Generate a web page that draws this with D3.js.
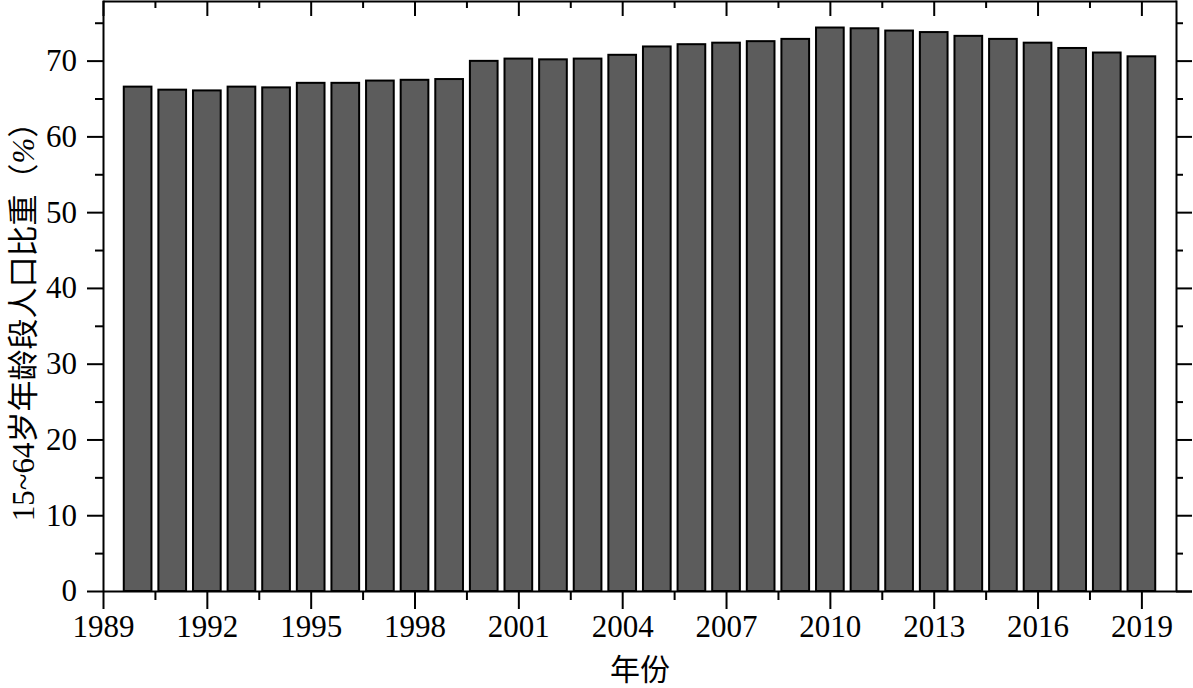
<!DOCTYPE html>
<html>
<head>
<meta charset="utf-8">
<script src="https://cdn.jsdelivr.net/npm/d3@7"></script>
<style>
html,body{margin:0;padding:0;background:#fff;}
svg{display:block;}
</style>
</head>
<body>
<svg id="chart" width="1193" height="688"></svg>
<script>
const years = [1990,1991,1992,1993,1994,1995,1996,1997,1998,1999,2000,2001,2002,2003,2004,2005,2006,2007,2008,2009,2010,2011,2012,2013,2014,2015,2016,2017,2018,2019];
const shares = [66.7,66.3,66.2,66.7,66.6,67.2,67.2,67.5,67.6,67.7,70.1,70.4,70.3,70.4,70.9,72.0,72.3,72.5,72.7,73.0,74.5,74.4,74.1,73.9,73.4,73.0,72.5,71.8,71.2,70.7];
const xMajorTicks = [1989,1992,1995,1998,2001,2004,2007,2010,2013,2016,2019];
const xMinorTicks = [1990.5,1993.5,1996.5,1999.5,2002.5,2005.5,2008.5,2011.5,2014.5,2017.5];
const yMajorTicks = [0,10,20,30,40,50,60,70];
const yMinorTicks = [5,15,25,35,45,55,65,75];
const xTitle = "年份";
const yTitleMain = "15~64岁年龄段人口比重";
const yTitleUnit = "%";

(function(){
const FONT = "'Liberation Serif', 'Times New Roman', 'DejaVu Serif', 'Noto Sans CJK SC', serif";
const svg = d3.select("#chart");
const L = 103, R = 1176, T = 0, B = 591;
const x = d3.scaleLinear().domain([1989, 2020]).range([L, R]);
const y = d3.scaleLinear().domain([0, 78]).range([B, T]);
const barW = x(1989.8) - x(1989);

// bars
svg.append("g").selectAll("rect").data(years).join("rect")
  .attr("x", (d) => x(d) - barW/2)
  .attr("width", barW)
  .attr("y", (d,i) => y(shares[i]) + 1)
  .attr("height", (d,i) => y(0) - y(shares[i]) - 1)
  .attr("fill", "#5c5c5c")
  .attr("stroke", "#000")
  .attr("stroke-width", 2);

const ax = (g) => g.call(s => s.select(".domain").attr("stroke-width", 2))
                  .call(s => s.selectAll(".tick line").attr("stroke-width", 2));

// bottom axis
const bottomAx = svg.append("g").attr("transform", `translate(0,${B})`)
  .call(d3.axisBottom(x).tickValues(xMajorTicks).tickFormat(d3.format("d")).tickSize(18).tickSizeOuter(0).tickPadding(6));
bottomAx.call(ax);
bottomAx.attr("font-family", null).attr("font-size", null);
bottomAx.selectAll("text").style("font-family", FONT).style("font-size", "31px").attr("fill", "#000");
bottomAx.select(".domain").attr("d", `M${L},0.5H1192`);
svg.append("g").attr("transform", `translate(0,${B})`)
  .call(d3.axisBottom(x).tickValues(xMinorTicks).tickFormat("").tickSize(9).tickSizeOuter(0))
  .call(ax).call(g => g.select(".domain").remove());

// top axis
const topAx = svg.append("g").attr("transform", `translate(0,${T+1})`)
  .call(d3.axisBottom(x).tickValues(xMajorTicks).tickFormat("").tickSize(15).tickSizeOuter(0));
topAx.call(ax);
svg.append("g").attr("transform", `translate(0,${T+1})`)
  .call(d3.axisBottom(x).tickValues(xMinorTicks).tickFormat("").tickSize(7).tickSizeOuter(0))
  .call(ax).call(g => g.select(".domain").remove());

// left axis
const leftAx = svg.append("g").attr("transform", `translate(${L},0)`)
  .call(d3.axisLeft(y).tickValues(yMajorTicks).tickSize(16).tickSizeOuter(0).tickPadding(10));
leftAx.call(ax);
leftAx.attr("font-family", null).attr("font-size", null);
leftAx.selectAll("text").style("font-family", FONT).style("font-size", "31px").attr("fill", "#000");
svg.append("g").attr("transform", `translate(${L},0)`)
  .call(d3.axisLeft(y).tickValues(yMinorTicks).tickFormat("").tickSize(8).tickSizeOuter(0))
  .call(ax).call(g => g.select(".domain").remove());

// right axis
svg.append("g").attr("transform", `translate(${R},0)`)
  .call(d3.axisRight(y).tickValues(yMajorTicks).tickFormat("").tickSize(16).tickSizeOuter(0))
  .call(ax);
svg.append("g").attr("transform", `translate(${R},0)`)
  .call(d3.axisRight(y).tickValues(yMinorTicks).tickFormat("").tickSize(7).tickSizeOuter(0))
  .call(ax).call(g => g.select(".domain").remove());

// titles
svg.append("text").attr("x", 640).attr("y", 680).attr("text-anchor", "middle")
  .style("font-family", FONT).style("font-size", "30px").text(xTitle);
const yt = svg.append("text").attr("transform", "translate(27,314) rotate(-90)")
  .attr("text-anchor", "middle").attr("dominant-baseline", "middle")
  .style("font-family", FONT).style("font-size", "31px");
yt.append("tspan").text(yTitleMain + "（");
yt.append("tspan").style("font-style", "italic").text(yTitleUnit);
yt.append("tspan").text("）");
})();
</script>
</body>
</html>
